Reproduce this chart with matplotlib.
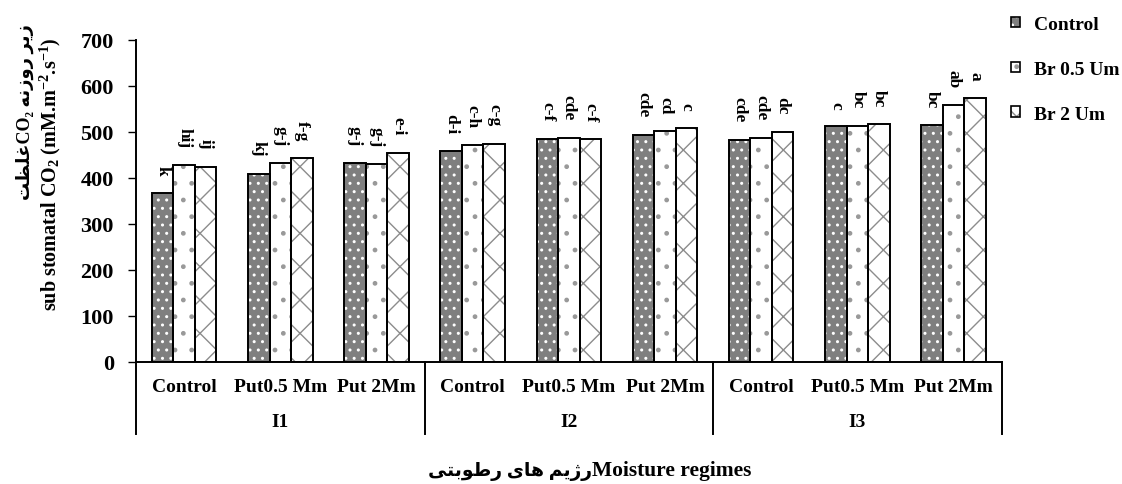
import matplotlib
matplotlib.use("Agg")
import matplotlib.pyplot as plt
import matplotlib.transforms as mtransforms
from matplotlib.patches import Patch
from matplotlib.lines import Line2D
from matplotlib.legend_handler import HandlerTuple
import numpy as np

# ---- data ----
regimes = ["I1", "I2", "I3"]
treatments = ["Control", "Put0.5 Mm", "Put 2Mm"]
series_names = ["Control", "Br 0.5 Um", "Br 2 Um"]
control_vals = [367, 409, 432, 458, 485, 494, 483, 512, 515]
br05_vals = [428, 432, 430, 471, 488, 502, 488, 514, 559]
br2_vals = [425, 443, 455, 475, 484, 509, 501, 517, 574]
control_letters = ["k", "kj", "g-j", "d-i", "c-f", "cde", "cde", "c", "bc"]
br05_letters = ["hij", "g-j", "g-j", "c-h", "cde", "cd", "cde", "bc", "ab"]
br2_letters = ["ij", "f-g", "e-i", "c-g", "c-f", "c", "dc", "bc", "a"]
yticks = [0, 100, 200, 300, 400, 500, 600, 700]

# Persian text in visual (presentation-form) order
fa_xlabel = "\uFBFD\uFE98\uFE91\uFEEE\uFEC3\uFEAD \uFBFC\uFE8E\uFEEB \uFEE2\uFBFE\uFB8A\uFEAD"
fa_ylabel_a = "\uFE96\uFEC8\uFEE0\uFECF"
fa_ylabel_b = "\uFEEA\uFEE7\uFEAF\uFEED\uFEAD \uFEAE\uFBFE\uFEAF"

FONT = ["Liberation Serif", "DejaVu Sans"]
plt.rcParams["font.family"] = FONT
plt.rcParams["font.weight"] = "bold"
plt.rcParams["mathtext.fontset"] = "custom"
plt.rcParams["mathtext.rm"] = "Liberation Serif:bold"
plt.rcParams["mathtext.default"] = "rm"
plt.rcParams["hatch.linewidth"] = 1.0

W, H = 1122, 485
fig = plt.figure(figsize=(W / 100, H / 100), dpi=100)
ax = fig.add_axes([136 / W, 1 - 363 / H, (1001.7 - 136) / W, (363 - 41) / H])

n = len(control_vals)
x = np.arange(n) + 0.5
bw = 0.2235

styles = [
    dict(face="#7f7f7f", hcol="white", hatch=".."),
    dict(face="white", hcol="#999999", hatch="."),
    dict(face="white", hcol="#8c8c8c", hatch="x"),
]
all_vals = [control_vals, br05_vals, br2_vals]
all_letters = [control_letters, br05_letters, br2_letters]

for k, (vals, st, lets) in enumerate(zip(all_vals, styles, all_letters)):
    xs = x + (k - 1) * bw
    ax.bar(xs, vals, bw, color=st["face"], edgecolor=st["hcol"], hatch=st["hatch"],
           linewidth=0, zorder=2)
    ax.bar(xs, vals, bw, fill=False, edgecolor="black", linewidth=1.4, zorder=3)
    for xi, v, lab in zip(xs, vals, lets):
        ax.annotate(lab, (xi, v), xytext=(0, 13), textcoords="offset points",
                    rotation=-90, ha="center", va="bottom", fontsize=12.5,
                    fontweight="bold")

ax.set_xlim(0, n)
ax.set_ylim(0, 700)
ax.set_yticks(yticks)
ax.tick_params(axis="y", direction="out", length=6, width=1, labelsize=16, pad=10)
ax.set_xticks([])
for lab in ax.get_yticklabels():
    lab.set_fontweight("bold")
for s in ["top", "right"]:
    ax.spines[s].set_visible(False)
ax.spines["left"].set_linewidth(1.4)
ax.spines["bottom"].set_linewidth(1.4)

# multi-level category axis
trans = mtransforms.blended_transform_factory(ax.transData, fig.transFigure)
for i in range(n):
    ax.text(x[i], 1 - 388 / H, treatments[i % 3], transform=trans, ha="center",
            va="center", fontsize=14, fontweight="bold")
for g, name in enumerate(regimes):
    ax.text(g * 3 + 1.5, 1 - 423 / H, name, transform=trans, ha="center",
            va="center", fontsize=14, fontweight="bold")
for g in range(4):
    ax.add_line(Line2D([g * 3, g * 3], [1 - 363 / H, 1 - 435 / H], transform=trans,
                       color="black", linewidth=1.4, clip_on=False))

# axis titles
fig.text(592 / W, 1 - 471 / H, "Moisture regimes", ha="left", va="center",
         fontsize=15.5, fontweight="bold")
fig.text(592 / W, 1 - 472 / H, fa_xlabel, ha="right", va="center",
         fontsize=13.5, fontweight="bold", family=FONT)
fig.text(50 / W, 1 - 174 / H, "sub stomatal CO$_2$ (mM.m$^{-2}$.s$^{-1}$)",
         rotation=90, ha="center", va="center", fontsize=14.5, fontweight="bold")
fig.text(25 / W, 1 - 112 / H, fa_ylabel_a + "CO\u2082 " + fa_ylabel_b, rotation=90,
         ha="center", va="center", fontsize=13, fontweight="bold", family=FONT)

# legend
handles = []
for st, name in zip(styles, series_names):
    base = Patch(facecolor=st["face"], edgecolor=st["hcol"], hatch=st["hatch"], linewidth=0)
    outline = Patch(facecolor="none", edgecolor="black", linewidth=1.2)
    handles.append((base, outline))
leg = fig.legend(handles=handles, labels=series_names, loc="upper left",
                 bbox_to_anchor=(1011 / W, 1 - 17 / H),
                 handler_map={tuple: HandlerTuple(ndivide=1, pad=0)},
                 frameon=False, fontsize=14, handlelength=0.45, handleheight=0.45,
                 handletextpad=0.75, labelspacing=1.43, borderpad=0, borderaxespad=0)
for t in leg.get_texts():
    t.set_fontweight("bold")

fig.savefig("out.png", dpi=100)
